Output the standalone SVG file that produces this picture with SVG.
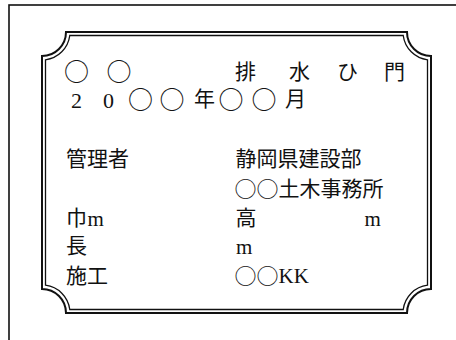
<svg xmlns="http://www.w3.org/2000/svg" width="456" height="340" viewBox="0 0 456 340">
<style>
  .frame { fill: none; stroke: #111; stroke-width: 1.6; }
  .outer { fill: none; stroke: #111; stroke-width: 2; }
  .inner { fill: none; stroke: #111; stroke-width: 1.3; }
  .jp { font-family: "Noto Sans CJK JP", "Liberation Serif", sans-serif; font-size: 21px; fill: #111; }
  .lat { font-family: "Liberation Serif", serif; }
  .c { font-size: 25px; }
  .cs { font-size: 22px; }
</style>
<rect width="456" height="340" fill="#fff"/>
<g id="frame">
  <rect class="frame" x="9" y="5" width="470" height="360"/>
</g>
<g id="plaque">
  <path class="outer" d="M 66,32 H 407 A 24 24 0 0 0 431,56 V 289 A 24 24 0 0 0 407,313 H 66 A 24 24 0 0 0 42,289 V 56 A 24 24 0 0 0 66,32 Z"/>
  <path class="inner" d="M 69.77,35.5 H 403.23 A 28 28 0 0 0 427.5,59.77 V 285.23 A 28 28 0 0 0 403.23,309.5 H 69.77 A 28 28 0 0 0 45.5,285.23 V 59.77 A 28 28 0 0 0 69.77,35.5 Z"/>
</g>
<g id="texts" class="jp">
  <text id="name-left" class="c" y="80.5"><tspan x="64">○</tspan><tspan x="106.5">○</tspan></text>
  <text id="name-right" y="78.5"><tspan x="235">排</tspan><tspan x="289">水</tspan><tspan x="337">ひ</tspan><tspan x="384">門</tspan></text>
  <text id="date" y="106"><tspan class="lat" font-size="22" x="71" y="107.5">2</tspan><tspan class="lat" font-size="22" x="103" y="107.5">0</tspan><tspan class="c" x="128" y="108.5">○</tspan><tspan class="c" x="159.5">○</tspan><tspan x="194" y="106">年</tspan><tspan class="c" x="218.5" y="108.5">○</tspan><tspan class="c" x="251.5">○</tspan><tspan x="285" y="106">月</tspan></text>
  <text id="mgr-label" x="66" y="166">管理者</text>
  <text id="mgr-1" x="235.5" y="166">静岡県建設部</text>
  <text id="mgr-2" y="196"><tspan class="cs" x="234.5" y="197">○</tspan><tspan class="cs" x="256.5">○</tspan><tspan x="278.5" y="196">土木事務所</tspan></text>
  <text id="width" y="225"><tspan x="66">巾</tspan><tspan class="lat" x="87.5" y="225.5">m</tspan></text>
  <text id="height" y="225"><tspan x="235.5">高</tspan><tspan class="lat" x="364.5" y="225.5">m</tspan></text>
  <text id="length" x="66" y="253">長</text>
  <text id="length-v" class="lat" x="236" y="253.5">m</text>
  <text id="builder" x="66" y="283">施工</text>
  <text id="builder-v" y="283"><tspan class="cs" x="234.5" y="284">○</tspan><tspan class="cs" x="256.5">○</tspan><tspan class="lat" x="278.5" y="283">KK</tspan></text>
</g>
</svg>
